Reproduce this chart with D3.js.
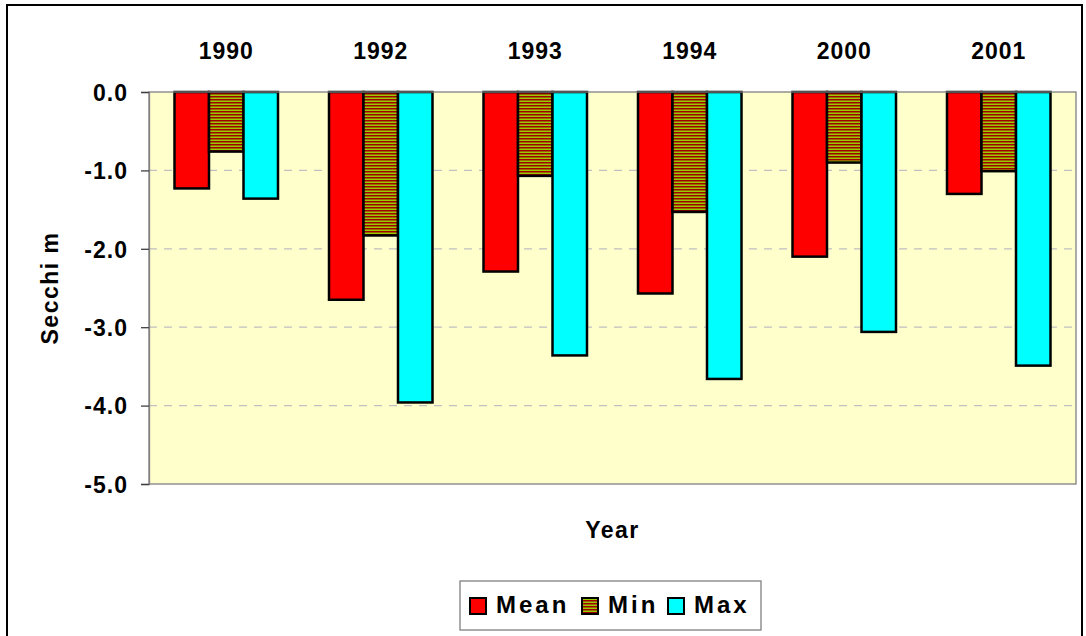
<!DOCTYPE html>
<html>
<head>
<meta charset="utf-8">
<script src="https://cdn.jsdelivr.net/npm/d3@7/dist/d3.min.js"></script>
<style>
  html, body { margin: 0; padding: 0; background: #fff; }
  svg { display: block; font-family: Arial, "Liberation Sans", sans-serif; }
</style>
</head>
<body>
<svg id="chart" width="1086" height="636"></svg>
<script>
// Secchi depth by survey year
const years = ["1990", "1992", "1993", "1994", "2000", "2001"];
const seriesNames = ["Mean", "Min", "Max"];
const meanValues = [-1.23, -2.65, -2.29, -2.57, -2.10, -1.30];
const minValues  = [-0.76, -1.83, -1.07, -1.53, -0.90, -1.01];
const maxValues  = [-1.36, -3.96, -3.36, -3.66, -3.06, -3.49];
const yTicks = [0, -1, -2, -3, -4, -5];

const seriesValues = [meanValues, minValues, maxValues];
const fills = ["#ff0000", "url(#stripes)", "#00ffff"];
const FONT = "Arial, 'Liberation Sans', sans-serif";

const svg = d3.select("#chart");
const plot = { left: 149, top: 92, right: 1076, bottom: 484 };

// hatched fill for the Min series
const defs = svg.append("defs");
const pat = defs.append("pattern")
  .attr("id", "stripes")
  .attr("patternUnits", "userSpaceOnUse")
  .attr("width", 8).attr("height", 3);
pat.append("rect").attr("width", 8).attr("height", 3).attr("fill", "#a00000");
pat.append("rect").attr("y", 1.5).attr("width", 8).attr("height", 1.5).attr("fill", "#99cc00");

// outer frame
svg.append("rect")
  .attr("x", 7).attr("y", 5).attr("width", 1075).attr("height", 640)
  .attr("fill", "#fff").attr("stroke", "#000").attr("stroke-width", 2);

const x0 = d3.scaleBand().domain(years).range([plot.left, plot.right]);
const groupW = 103.5;
const x1 = d3.scaleBand().domain(seriesNames).range([0, groupW]);
const y = d3.scaleLinear().domain([0, -5]).range([plot.top, plot.bottom]);

// plot background
svg.append("rect")
  .attr("x", plot.left).attr("y", plot.top)
  .attr("width", plot.right - plot.left).attr("height", plot.bottom - plot.top)
  .attr("fill", "#ffffcc");

// dashed gridlines
svg.append("g").selectAll("line")
  .data(yTicks.filter(t => t !== 0 && t !== -5))
  .join("line")
  .attr("x1", plot.left).attr("x2", plot.right)
  .attr("y1", d => y(d)).attr("y2", d => y(d))
  .attr("stroke", "#c0c0c0").attr("stroke-width", 1.3)
  .attr("stroke-dasharray", "8,7");

// bars
const groups = svg.append("g").selectAll("g")
  .data(years)
  .join("g")
  .attr("transform", d => `translate(${x0(d) + (x0.bandwidth() - groupW) / 2},0)`);

groups.selectAll("rect")
  .data((d, i) => seriesNames.map((s, j) => ({ s, v: seriesValues[j][i], fill: fills[j] })))
  .join("rect")
  .attr("x", d => x1(d.s))
  .attr("y", y(0))
  .attr("width", x1.bandwidth())
  .attr("height", d => y(d.v) - y(0))
  .attr("fill", d => d.fill)
  .attr("stroke", "#000").attr("stroke-width", 2.5);

// plot area border
svg.append("rect")
  .attr("x", plot.left).attr("y", plot.top)
  .attr("width", plot.right - plot.left).attr("height", plot.bottom - plot.top)
  .attr("fill", "none").attr("stroke", "#808080").attr("stroke-width", 1.3);

// y axis
const yAxis = svg.append("g")
  .attr("transform", `translate(${plot.left},0)`)
  .call(d3.axisLeft(y).tickValues(yTicks)
    .tickFormat(d => d3.format(".1f")(d).replace("\u2212", "-"))
    .tickSize(8).tickPadding(13));
yAxis.select(".domain").attr("stroke", "#808080").attr("stroke-width", 1.3);
yAxis.selectAll(".tick line").attr("stroke", "#404040").attr("stroke-width", 1.3);
yAxis.selectAll(".tick text")
  .attr("font-size", 23).attr("font-weight", "bold").attr("fill", "#000")
  .attr("letter-spacing", 1).attr("dy", "0.36em")
  .attr("font-family", FONT);

// x axis labels along the top
const xAxis = svg.append("g")
  .attr("transform", `translate(0,${plot.top})`)
  .call(d3.axisTop(x0).tickSize(0).tickPadding(33));
xAxis.select(".domain").remove();
xAxis.selectAll(".tick text")
  .attr("font-size", 23).attr("font-weight", "bold").attr("fill", "#000")
  .attr("letter-spacing", 1).attr("dy", 0)
  .attr("font-family", FONT);

// axis titles
svg.append("text")
  .attr("transform", `translate(58,${(plot.top + plot.bottom) / 2}) rotate(-90)`)
  .attr("text-anchor", "middle")
  .attr("font-size", 23).attr("font-weight", "bold").attr("letter-spacing", 1.5)
  .text("Secchi m");

svg.append("text")
  .attr("x", (plot.left + plot.right) / 2).attr("y", 538)
  .attr("text-anchor", "middle")
  .attr("font-size", 23).attr("font-weight", "bold").attr("letter-spacing", 1.5)
  .text("Year");

// legend
const legend = svg.append("g");
legend.append("rect")
  .attr("x", 460).attr("y", 581).attr("width", 301).attr("height", 49)
  .attr("fill", "#fff").attr("stroke", "#808080").attr("stroke-width", 1.3);
const legendX = [470, 582, 668];
seriesNames.forEach((s, j) => {
  legend.append("rect")
    .attr("x", legendX[j]).attr("y", 598).attr("width", 16).attr("height", 16)
    .attr("fill", fills[j]).attr("stroke", "#000").attr("stroke-width", 2);
  legend.append("text")
    .attr("x", legendX[j] + 26).attr("y", 613)
    .attr("font-size", 24).attr("font-weight", "bold")
    .attr("letter-spacing", 3)
    .text(s);
});
</script>
</body>
</html>
